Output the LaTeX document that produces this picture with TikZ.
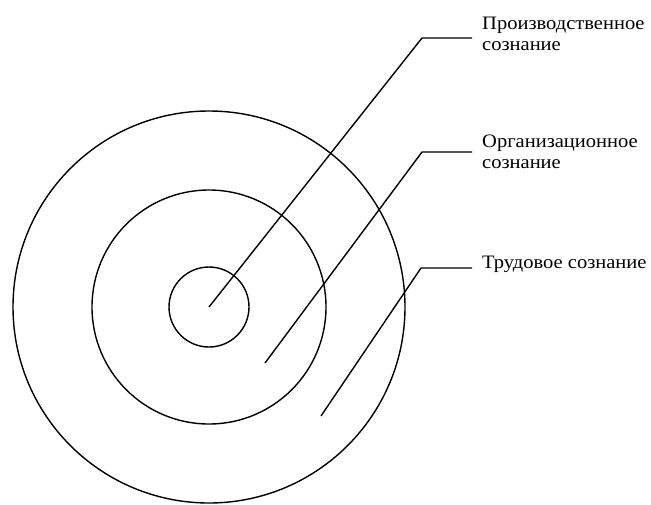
\documentclass[tikz,border=0pt]{standalone}
\usepackage{fontspec}
\setmainfont{Liberation Serif}[FakeStretch=1.08]
\begin{document}
\begin{tikzpicture}[x=1pt,y=-1pt,
  ring/.style={draw, circle, line width=1.4pt, inner sep=0pt},
  lead/.style={draw, line width=1.4pt},
  lbl/.style={anchor=base west, align=left, inner sep=0pt, font=\fontsize{19}{20.5}\selectfont}]
\useasboundingbox (0,0) rectangle (651,504);
\coordinate (c) at (209,307);
\node[ring, minimum size=392pt] (outer) at (c) {};
\node[ring, minimum size=234pt] (middle) at (c) {};
\node[ring, minimum size=80pt] (inner) at (c) {};
\node[lbl] (t1) at (482,50) {Производственное\\сознание};
\node[lbl] (t2) at (482,168) {Организационное\\сознание};
\node[lbl] (t3) at (482,268) {Трудовое сознание};
\coordinate (p1) at (209,307);
\coordinate (b1) at (422,38);
\coordinate (e1) at (472,38);
\coordinate (p2) at (265,363);
\coordinate (b2) at (422,152);
\coordinate (e2) at (472,152);
\coordinate (p3) at (321,416);
\coordinate (b3) at (421,268);
\coordinate (e3) at (472,268);
\draw[lead] (p1) -- (b1) -- (e1);
\draw[lead] (p2) -- (b2) -- (e2);
\draw[lead] (p3) -- (b3) -- (e3);
\end{tikzpicture}
\end{document}
